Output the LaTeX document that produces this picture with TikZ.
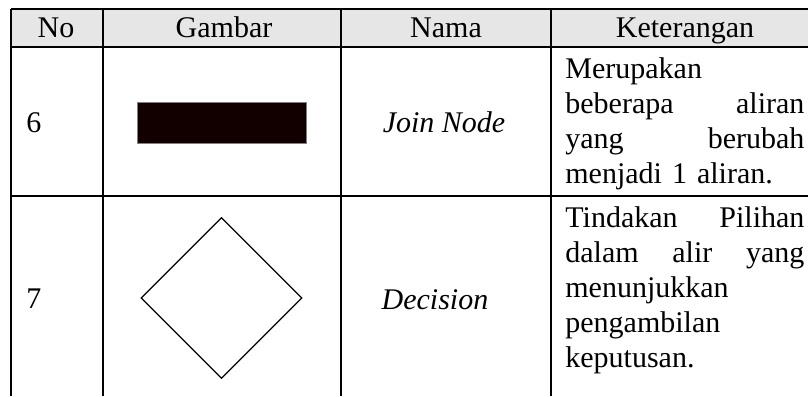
\documentclass[tikz,border=0pt]{standalone}
\usepackage{fontspec}
\setmainfont{Liberation Serif}
\usetikzlibrary{shapes.geometric}
\definecolor{headgray}{RGB}{230,230,230}
\definecolor{joinfill}{RGB}{18,0,0}
\begin{document}
\begin{tikzpicture}[x=0.5pt,y=-0.5pt,
    font=\fontsize{15}{17.5}\selectfont,
    grid/.style={line width=1pt},
    cell/.style={anchor=base,inner sep=0pt},
    desc/.style={anchor=north west,inner sep=0pt,text width=119.5pt,align=left}]
  \useasboundingbox (0,0) rectangle (808,396);
  \fill[headgray] (11,9) rectangle (808,47);
  % header
  \node[cell] (no) at (56,37.5) {No};
  \node[cell] (gambar) at (224,37.5) {Gambar};
  \node[cell] (nama) at (446,37.5) {Nama};
  \node[cell] (ket) at (685,37.5) {Keterangan};
  % row 6
  \node[cell,anchor=base west] (n6) at (26,132) {6};
  \node[fill=joinfill,draw=gray,line width=0.4pt,inner sep=0pt,
        minimum width=84.5pt,minimum height=20.5pt] (join) at (221.5,122.5) {};
  \node[cell] (joinname) at (444,132) {\itshape Join Node};
  \node[desc] (joindesc) at (565,53.5)
    {\strut Merupakan\\ beberapa\hfill aliran\\ yang\hfill berubah\\ menjadi 1 aliran.};
  % row 7
  \node[cell,anchor=base west] (n7) at (26,308) {7};
  \node[diamond,draw,line width=0.6pt,inner sep=0pt,aspect=1,
        minimum width=80.5pt,minimum height=80.5pt] (dec) at (221.5,298) {};
  \node[cell] (decname) at (435,309) {\itshape Decision};
  \node[desc] (decdesc) at (565,202.5)
    {\strut Tindakan\hfill Pilihan\\ dalam\hfill alir\hfill yang\\ menunjukkan\\ pengambilan\\ keputusan.};
  % table lines
  \draw[grid] (11,9) -- (808,9);
  \draw[grid] (11,47) -- (808,47);
  \draw[grid] (11,196) -- (808,196);
  \draw[grid] (11,9) -- (11,396);
  \draw[grid] (103,9) -- (103,396);
  \draw[grid] (341,9) -- (341,396);
  \draw[grid] (551,9) -- (551,396);
\end{tikzpicture}
\end{document}
